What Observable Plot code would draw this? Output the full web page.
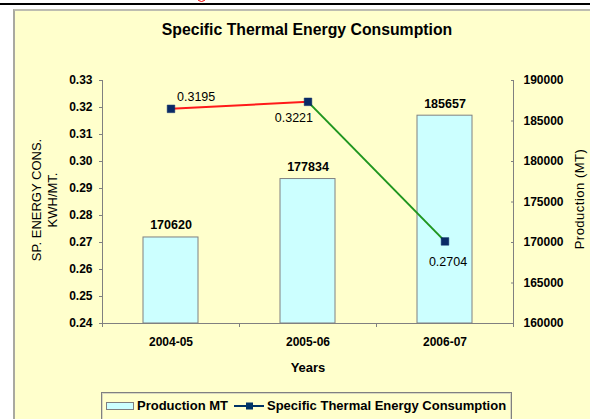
<!DOCTYPE html>
<html><head><meta charset="utf-8">
<script src="https://cdn.jsdelivr.net/npm/d3@7"></script>
<script src="https://cdn.jsdelivr.net/npm/@observablehq/plot@0.6"></script>
<style>
body{margin:0;background:#fff;}
#wrap{position:relative;width:590px;height:419px;overflow:hidden;font-family:"Liberation Sans",Arial,sans-serif;color:#000;}
.topline{position:absolute;left:0;top:3px;width:590px;height:2px;background:#000;}
.arc{position:absolute;left:197px;top:-7px;width:7px;height:7px;border:1.5px solid #e00;border-radius:50%;}
.box{position:absolute;left:13px;top:9px;width:620px;height:430px;background:#FFFFCC;border-left:2px solid #a9a9a0;border-top:2px solid #bdbdb0;}
#chart{position:absolute;left:0;top:0;}
#chart svg{background:transparent;overflow:visible;}
.title{position:absolute;left:0;width:614px;top:21px;line-height:18px;text-align:center;font-weight:bold;font-size:15.8px;}
.ylab{position:absolute;left:45px;top:200px;width:200px;font-size:13px;line-height:16px;text-align:center;transform:translate(-50%,-50%) rotate(-90deg);white-space:nowrap;}
.y2lab{position:absolute;left:580px;top:199px;width:200px;font-size:13px;line-height:16px;text-align:center;transform:translate(-50%,-50%) rotate(-90deg);white-space:nowrap;letter-spacing:0.5px;}
.xlab{position:absolute;left:208px;width:200px;top:360px;line-height:16px;text-align:center;font-size:13px;font-weight:bold;}
.legend{position:absolute;left:101px;top:392px;width:409px;height:40px;border:1px solid #808080;background:#FFFFCC;box-shadow:inset 0 0 0 1px #d8d8c0;}
.legend .row{position:absolute;left:4px;top:5px;display:flex;align-items:center;height:16px;font-size:13px;line-height:16px;font-weight:bold;white-space:nowrap;}
</style></head><body>
<div id="wrap">
  <div class="topline"></div>
  <div class="arc"></div>
  <div class="box"></div>
  <div id="chart"></div>
  <div class="title">Specific Thermal Energy Consumption</div>
  <div class="ylab">SP. ENERGY CONS.<br>KWH/MT.</div>
  <div class="y2lab">Production (MT)</div>
  <div class="xlab">Years</div>
  <div class="legend">
    <div class="row">
      <svg width="29" height="10" style="margin-right:2px"><rect x="0.5" y="1.5" width="27" height="7" fill="#CCFFFF" stroke="#7f7f7f"/></svg>
      <span>Production MT</span>
      <svg width="31" height="12" style="margin-left:6px;margin-right:2px"><line x1="0" y1="6" x2="30" y2="6" stroke="#003366" stroke-width="2"/><rect x="12" y="2.5" width="7" height="7" fill="#003366"/></svg>
      <span>Specific Thermal Energy Consumption</span>
    </div>
  </div>
</div>
<script>
const categories = ["2004-05", "2005-06", "2006-07"];
const production = [170620, 177834, 185657];
const energy = [0.3195, 0.3221, 0.2704];
const energyTicks = [0.24, 0.25, 0.26, 0.27, 0.28, 0.29, 0.30, 0.31, 0.32, 0.33];
const productionTicks = [160000, 165000, 170000, 175000, 180000, 185000, 190000];
const segmentColors = ["#ff1a1a", "#1f961f"];

const eMin = energyTicks[0], eMax = energyTicks[energyTicks.length - 1];
const pMin = productionTicks[0], pMax = productionTicks[productionTicks.length - 1];
const toProd = (e) => pMin + (e - eMin) / (eMax - eMin) * (pMax - pMin);
const fromProd = (p) => eMin + (p - pMin) / (pMax - pMin) * (eMax - eMin);

const bars = categories.map((c, i) => ({cat: c, prod: production[i]}));
const points = categories.map((c, i) => ({cat: c, e: energy[i], y: toProd(energy[i])}));
const segments = points.slice(1).map((p, i) => ({a: points[i], b: p, color: segmentColors[i]}));

const W = 590, H = 419, mL = 102, mR = 77, mT = 80, mB = 96;
const step = (W - mL - mR) / categories.length;

const chart = Plot.plot({
  width: W, height: H,
  marginLeft: mL, marginRight: mR, marginTop: mT, marginBottom: mB,
  style: {fontFamily: '"Liberation Sans", Arial, sans-serif', fontSize: "12px", background: "transparent", color: "#000"},
  x: {type: "band", domain: categories, paddingInner: 0.6, paddingOuter: 0.3, axis: null},
  y: {domain: [pMin, pMax], axis: null},
  marks: [
    Plot.barY(bars, {x: "cat", y1: pMin, y2: "prod", fill: "#CCFFFF", stroke: "#808080", strokeWidth: 1}),
    Plot.ruleY([pMin], {stroke: "#808080", strokeWidth: 1}),
    Plot.frame({anchor: "left", stroke: "#808080"}),
    Plot.frame({anchor: "right", stroke: "#808080"}),
    Plot.ruleX(categories, {x: d => d, y1: pMin, y2: pMin, dx: step / 2, insetBottom: -4, stroke: "#808080"}),
    Plot.ruleX(categories.slice(0, 1), {x: d => d, y1: pMin, y2: pMin, dx: -step / 2, insetBottom: -4, stroke: "#808080"}),
    Plot.axisY(energyTicks.map(toProd), {anchor: "left", tickSize: 3, tickPadding: 7, stroke: "#808080",
      tickFormat: d => fromProd(d).toFixed(2), fontWeight: "bold", fontSize: 12, fill: "#000"}),
    Plot.axisY(productionTicks, {anchor: "right", tickSize: 3, dx: -3, tickPadding: 10, stroke: "#808080",
      tickFormat: d => String(d), fontWeight: "bold", fontSize: 12, fill: "#000"}),
    Plot.axisX(categories, {anchor: "bottom", tickSize: 0, tickPadding: 14, fontWeight: "bold", fontSize: 12, fill: "#000"}),
    Plot.text(bars, {x: "cat", y: "prod", text: d => String(d.prod), dy: -12, fontSize: 12.5, fontWeight: "bold", fill: "#000"}),
    Plot.link(segments, {x1: d => d.a.cat, y1: d => d.a.y, x2: d => d.b.cat, y2: d => d.b.y, stroke: d => d.color, strokeWidth: 2}),
    Plot.dot(points, {x: "cat", y: "y", symbol: "square", r: 4.3, fill: "#0a2a66", stroke: "#0a2a66", strokeWidth: 0.5}),
    Plot.text(points.slice(0, 1), {x: "cat", y: "y", text: d => d.e.toFixed(4), dx: 6, dy: -12, textAnchor: "start", fontSize: 12.5, fill: "#000"}),
    Plot.text(points.slice(1, 2), {x: "cat", y: "y", text: d => d.e.toFixed(4), dx: 5, dy: 16, textAnchor: "end", fontSize: 12.5, fill: "#000"}),
    Plot.text(points.slice(2, 3), {x: "cat", y: "y", text: d => d.e.toFixed(4), dx: 3, dy: 21, fontSize: 12.5, fill: "#000"})
  ]
});
document.getElementById("chart").appendChild(chart);
</script>
</body></html>
